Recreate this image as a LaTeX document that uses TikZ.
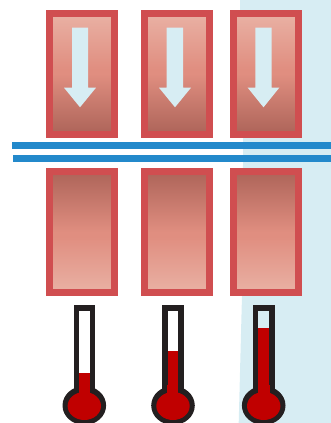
\documentclass[tikz,border=0pt]{standalone}
\definecolor{boxred}{HTML}{D04E50}
\definecolor{icecolor}{HTML}{D7EDF3}
\definecolor{pipeblue}{HTML}{2389CB}
\definecolor{glassdark}{HTML}{231F20}
\definecolor{mercury}{HTML}{C00000}
\definecolor{warmtop}{HTML}{E9B1A4}
\definecolor{warmmid}{HTML}{E08E80}
\definecolor{warmlow}{HTML}{AD6459}
\pgfdeclareverticalshading{warmfade}{100bp}{color(0bp)=(warmlow); color(25bp)=(warmlow); color(50bp)=(warmmid); color(52bp)=(warmmid); color(75bp)=(warmtop); color(100bp)=(warmtop)}
\begin{document}
\begin{tikzpicture}[x=1pt,y=-1pt,
    upperbox/.style={draw=boxred, line width=7pt, shading=warmfade},
    lowerbox/.style={draw=boxred, line width=7pt, shading=warmfade, shading angle=180},
    icearrow/.style={fill=icecolor},
    pipe/.style={fill=pipeblue},
    glass/.style={draw=glassdark, line width=5.5pt},
    bulb/.style={fill=glassdark},
    level/.style={fill=mercury}]
    \useasboundingbox (0,0) rectangle (331,423);

    % Cold side background
    \fill[icecolor] (240,0) -- (243,137) -- (243,165) -- (242,295) -- (238.7,423) -- (331,423) -- (331,0) -- cycle;

    % Upper boxes
    \draw[upperbox] (49.5,13.5) rectangle (114.5,134);
    \draw[upperbox] (144.5,13.5) rectangle (209,134);
    \draw[upperbox] (233.5,13.5) rectangle (298,134);

    % Arrows inside upper boxes
    \fill[icearrow] (72,27.7) -- (88,27.7) -- (88,87.7) -- (96,87.7) -- (80,107.3) -- (64,87.7) -- (72,87.7) -- cycle;
    \fill[icearrow] (166.7,27.7) -- (183,27.7) -- (183,87.7) -- (191,87.7) -- (175,107.3) -- (159,87.7) -- (166.7,87.7) -- cycle;
    \fill[icearrow] (255.3,27.7) -- (271.7,27.7) -- (271.7,87.7) -- (279.3,87.7) -- (263.5,107.3) -- (247.7,87.7) -- (255.3,87.7) -- cycle;

    % Double pipe
    \fill[pipe] (12,142) rectangle (331,149);
    \fill[pipe] (13,154.7) rectangle (331,161.7);

    % Lower boxes
    \draw[lowerbox] (49.5,171.5) rectangle (114.5,292.5);
    \draw[lowerbox] (144.5,171.5) rectangle (209,292.5);
    \draw[lowerbox] (233.5,171.5) rectangle (298,292.5);

    % Thermometer 1
    \fill[level] (79,373) rectangle (90,400);
    \fill[bulb] (84.3,405.5) ellipse (21.8 and 19.5);
    \draw[glass] (76.3,395) -- (76.3,307.8) -- (92.5,307.8) -- (92.5,395);
    \fill[level] (79,385) rectangle (90,400);
    \fill[level] (84.3,406) ellipse (16.7 and 14);

    % Thermometer 2
    \fill[level] (167,351) rectangle (178,400);
    \fill[bulb] (173,405.5) ellipse (21.8 and 19.5);
    \draw[glass] (164.8,395) -- (164.8,307.8) -- (181,307.8) -- (181,395);
    \fill[level] (167,385) rectangle (178,400);
    \fill[level] (173,406) ellipse (16.7 and 14);

    % Thermometer 3
    \fill[level] (258.3,328) rectangle (269.5,400);
    \fill[bulb] (263.7,405.5) ellipse (21.8 and 19.5);
    \draw[glass] (255.6,395) -- (255.6,307.8) -- (271.8,307.8) -- (271.8,395);
    \fill[level] (258.3,385) rectangle (269.5,400);
    \fill[level] (263.7,406) ellipse (16.7 and 14);
\end{tikzpicture}
\end{document}
